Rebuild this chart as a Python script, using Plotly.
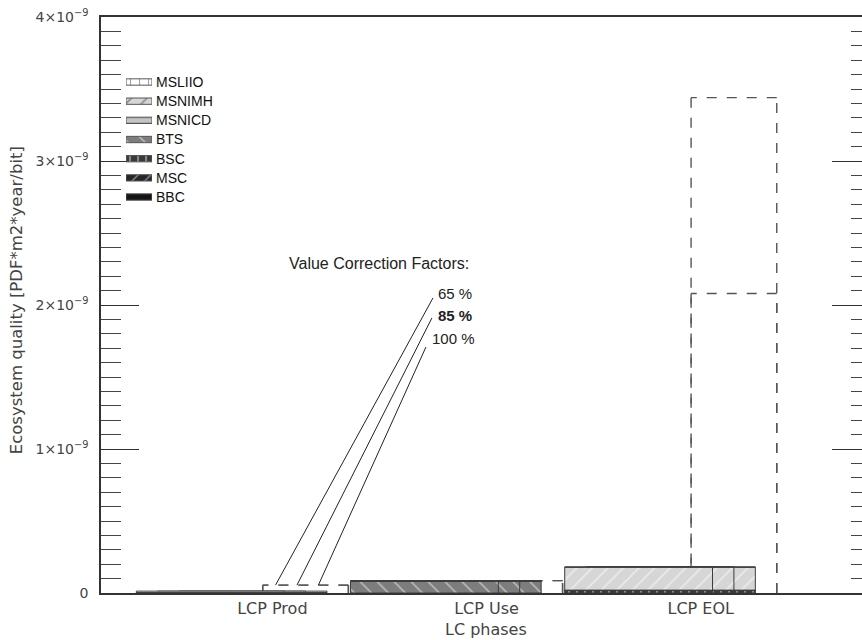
import plotly.graph_objects as go

# ---------------------------------------------------------------- data
phases = ["LCP Prod", "LCP Use", "LCP EOL"]
technologies = ["MSLIIO", "MSNIMH", "MSNICD", "BTS", "BSC", "MSC", "BBC"]
correction_factors = ["65 %", "85 %", "100 %"]

# Ecosystem quality [PDF*m2*year/bit]; rows follow `technologies`, columns follow `phases`
eq_65 = [
    [1.0e-11, 0.0, 0.0],       # MSLIIO
    [0.0, 0.0, 1.60e-10],      # MSNIMH
    [0.0, 0.0, 0.0],           # MSNICD
    [0.0, 8.3e-11, 0.0],       # BTS
    [0.3e-11, 0.0, 2.0e-11],   # BSC
    [0.0, 0.0, 0.0],           # MSC
    [0.0, 0.0, 0.0],           # BBC
]
eq_85 = [
    [1.0e-11, 0.0, 0.0],
    [0.0, 0.0, 1.60e-10],
    [0.0, 0.0, 0.0],
    [0.0, 8.3e-11, 0.0],
    [0.3e-11, 0.0, 2.0e-11],
    [0.0, 0.0, 0.0],
    [0.0, 0.0, 0.0],
]
eq_100 = [
    [1.0e-11, 0.0, 0.0],
    [0.0, 0.0, 1.60e-10],
    [0.0, 0.0, 0.0],
    [0.0, 8.3e-11, 0.0],
    [0.3e-11, 0.0, 2.0e-11],
    [0.0, 0.0, 0.0],
    [0.0, 0.0, 0.0],
]

# upper estimates, drawn as dashed outlines
eq_upper_high = [5.5e-11, 8.6e-11, 3.44e-9]
eq_upper_low = [5.5e-11, 8.6e-11, 2.08e-9]

# ---------------------------------------------------------------- styles
AXIS_FONT = "DejaVu Sans"
TEXT_FONT = "Liberation Sans"
INK = "#333333"

tech_fill = {
    "MSLIIO": "#ffffff", "MSNIMH": "#d6d6d6", "MSNICD": "#c4c4c4",
    "BTS": "#7d7d7d", "BSC": "#3a3a3a", "MSC": "#262626", "BBC": "#141414",
}
# (shape, line colour, size, solidity)
tech_hatch = {
    "MSLIIO": ("|", "#c8c8c8", 9, 0.12),
    "MSNIMH": ("/", "#ffffff", 11, 0.15),
    "MSNICD": ("-", "#ffffff", 6, 0.22),
    "BTS": ("\\", "#ffffff", 12, 0.13),
    "BSC": ("|", "#ffffff", 8, 0.2),
    "MSC": ("/", "#ffffff", 9, 0.15),
    "BBC": ("", "#ffffff", 8, 0.1),
}

BAR_WIDTH = 0.69
FACTOR_OFFSET = [-0.635, -0.535, -0.435]   # 65 %, 85 %, 100 %
BOX_LEFT, BOX_RIGHT = -0.045, 0.355

Y_MAX = 4e-9
MAJOR_STEP = 1e-9
MINOR_STEP = 1e-10
major_ticks = [i * MAJOR_STEP for i in range(5)]
minor_ticks = [i * MINOR_STEP for i in range(41) if i % 10]

phase_pos = [1, 2, 3]
eq_tables = [eq_65, eq_85, eq_100]


def pattern_for(tech):
    shape, fg, size, sol = tech_hatch[tech]
    return dict(shape=shape, fgcolor=fg, size=size, solidity=sol, fillmode="overlay")


fig = go.Figure()

# ---------------------------------------------------------------- stacked bars
# drawn 100 % first so that the 65 % bar lies on top
for fi in (2, 1, 0):
    table = eq_tables[fi]
    base = [0.0] * len(phases)
    for ti in reversed(range(len(technologies))):
        tech = technologies[ti]
        vals = table[ti]
        fig.add_trace(go.Bar(
            x=phase_pos, y=vals, base=list(base),
            offset=FACTOR_OFFSET[fi], width=BAR_WIDTH,
            marker=dict(color=tech_fill[tech], pattern=pattern_for(tech),
                        line=dict(color="#3c3c3c", width=1)),
            showlegend=False, hoverinfo="skip",
        ))
        base = [b + v for b, v in zip(base, vals)]

# ---------------------------------------------------------------- dashed outlines
shapes = []
for bounds in (eq_upper_high, eq_upper_low):
    for p, top in zip(phase_pos, bounds):
        x0, x1 = p + BOX_LEFT, p + BOX_RIGHT
        for (xa, ya, xb, yb) in ((x1, 0, x1, top), (x1, top, x0, top), (x0, top, x0, 0)):
            shapes.append(dict(
                type="line", xref="x", yref="y", x0=xa, y0=ya, x1=xb, y1=yb,
                line=dict(color="#555555", width=1.4, dash="10px,10px"),
                layer="below",
            ))

# ---------------------------------------------------------------- correction factor leaders
label_x = [1.764, 1.764, 1.736]
label_y = [2.083e-9, 1.924e-9, 1.764e-9]
leader_start_x = [1.750, 1.745, 1.717]
leader_start_y = [2.049e-9, 1.910e-9, 1.708e-9]
for fi in range(3):
    end_x = phase_pos[0] + FACTOR_OFFSET[fi] + BAR_WIDTH - 0.04
    end_y = eq_upper_high[0]
    fig.add_trace(go.Scatter(
        x=[leader_start_x[fi], end_x], y=[leader_start_y[fi], end_y],
        mode="lines", line=dict(color="#222222", width=1),
        xaxis="x", yaxis="y2", showlegend=False, hoverinfo="skip",
    ))

annotations = [
    dict(text="Value Correction Factors:", x=1.50, y=2.285e-9, xref="x", yref="y",
         showarrow=False, xanchor="center", yanchor="middle",
         font=dict(family=TEXT_FONT, size=16, color="#222222")),
]
for fi, lab in enumerate(correction_factors):
    txt = f"<b>{lab}</b>" if lab == "85 %" else lab
    annotations.append(dict(
        text=txt, x=label_x[fi], y=label_y[fi], xref="x", yref="y",
        showarrow=False, xanchor="left", yanchor="middle",
        font=dict(family=TEXT_FONT, size=15, color="#222222"),
    ))

annotations.append(dict(
    text="Ecosystem quality [PDF*m2*year/bit]", textangle=-90,
    x=-0.110, y=0.5087, xref="paper", yref="paper",
    showarrow=False, xanchor="center", yanchor="middle",
    font=dict(family=AXIS_FONT, size=16.5, color="#444444"),
))
annotations.append(dict(
    text="LC phases", x=0.506, y=-0.064, xref="paper", yref="paper",
    showarrow=False, xanchor="center", yanchor="middle",
    font=dict(family=AXIS_FONT, size=16, color="#444444"),
))

# ---------------------------------------------------------------- technology key
key_length = [1] * len(technologies)
fig.add_trace(go.Bar(
    x=key_length, y=technologies, orientation="h", base=0, width=0.33,
    marker=dict(
        color=[tech_fill[t] for t in technologies],
        pattern=dict(
            shape=[tech_hatch[t][0] for t in technologies],
            fgcolor=[tech_hatch[t][1] for t in technologies],
            size=[tech_hatch[t][2] for t in technologies],
            solidity=[tech_hatch[t][3] for t in technologies],
            fillmode="overlay",
        ),
        line=dict(color="#555555", width=1),
    ),
    xaxis="x3", yaxis="y3", showlegend=False, hoverinfo="skip",
))

# ---------------------------------------------------------------- layout
fig.update_layout(
    width=862, height=640,
    margin=dict(l=101, r=0, t=17, b=47),
    paper_bgcolor="white", plot_bgcolor="white",
    barmode="overlay",
    shapes=shapes, annotations=annotations,
    showlegend=False,
    xaxis=dict(
        range=[0.2, 3.753], tickvals=phase_pos, ticktext=phases,
        ticks="", showgrid=False, zeroline=False,
        showline=True, mirror=True, linecolor=INK, linewidth=1.5,
        tickfont=dict(family=AXIS_FONT, size=16, color="#444444"),
        ticklabelstandoff=0,
    ),
    yaxis=dict(
        range=[0, Y_MAX], tickmode="array", tickvals=major_ticks,
        exponentformat="power", showexponent="all",
        ticks="inside", ticklen=38, tickwidth=1, tickcolor=INK,
        minor=dict(tickmode="array", tickvals=minor_ticks, ticks="inside",
                   ticklen=20, tickwidth=1, tickcolor="#444444"),
        showgrid=False, zeroline=False,
        showline=True, linecolor=INK, linewidth=1.5,
        tickfont=dict(family=AXIS_FONT, size=14, color="#444444"),
        ticklabelstandoff=8,
    ),
    yaxis2=dict(
        overlaying="y", side="right", anchor="x",
        range=[0, Y_MAX], tickmode="array", tickvals=major_ticks,
        ticks="inside", ticklen=30, tickwidth=1, tickcolor=INK,
        minor=dict(tickmode="array", tickvals=minor_ticks, ticks="inside",
                   ticklen=11, tickwidth=1, tickcolor="#444444"),
        showticklabels=False, showgrid=False, zeroline=False, showline=False,
    ),
    xaxis3=dict(
        domain=[0.0329, 0.0670], anchor="y3", range=[0, 1],
        visible=False, fixedrange=True,
    ),
    yaxis3=dict(
        domain=[0.6708, 0.9038], anchor="x3", type="category",
        categoryorder="array", categoryarray=technologies, autorange="reversed",
        side="right", ticks="", showline=False, showgrid=False, zeroline=False,
        tickfont=dict(family=TEXT_FONT, size=14, color="#111111"),
        ticklabelstandoff=3,
    ),
)

fig.write_html("out.html")
